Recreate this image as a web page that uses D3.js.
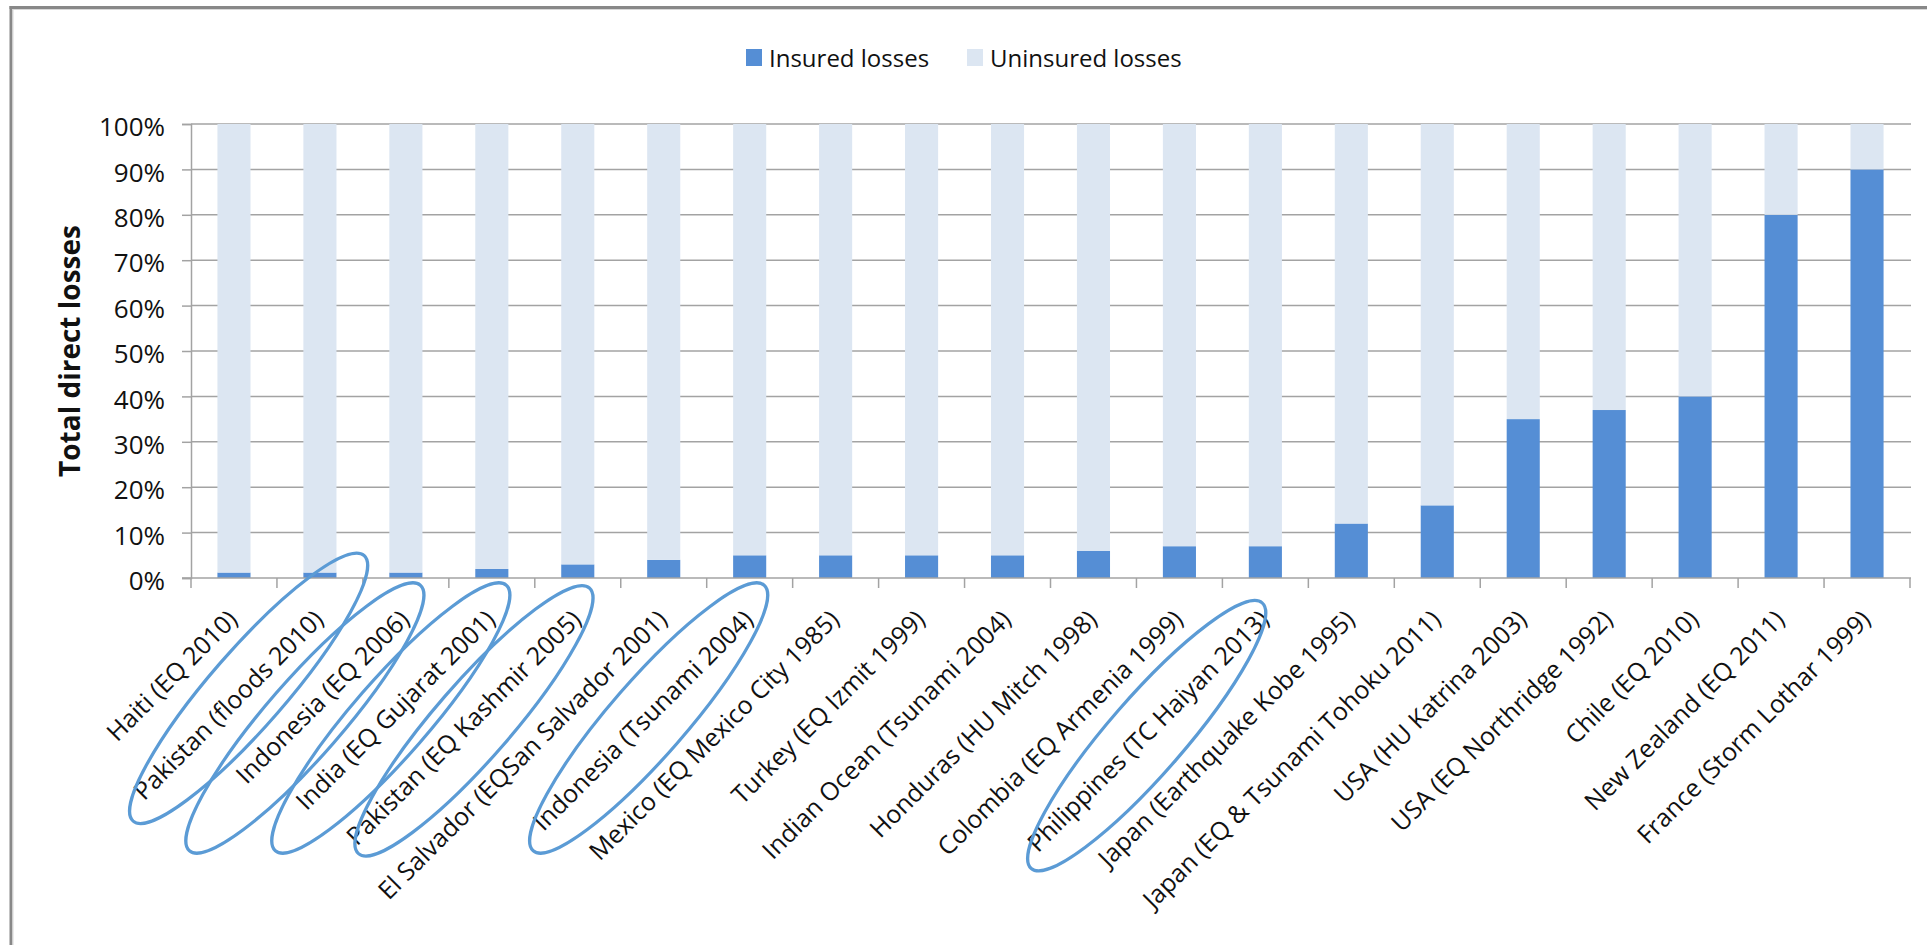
<!DOCTYPE html>
<html>
<head>
<meta charset="utf-8">
<script src="https://cdn.jsdelivr.net/npm/d3@7"></script>
<style>
  html, body { margin: 0; background: #fff; overflow: hidden; }
  svg { display: block; font-family: "Open Sans", sans-serif; }
</style>
</head>
<body>
<svg id="chart" width="1927" height="945"></svg>
<script>
// events along the x axis
var events = [
  "Haiti (EQ 2010)", "Pakistan (floods 2010)", "Indonesia (EQ 2006)",
  "India (EQ Gujarat 2001)", "Pakistan (EQ Kashmir 2005)",
  "El Salvador (EQSan Salvador 2001)", "Indonesia (Tsunami 2004)",
  "Mexico (EQ Mexico City 1985)", "Turkey (EQ Izmit 1999)",
  "Indian Ocean (Tsunami 2004)", "Honduras (HU Mitch 1998)",
  "Colombia (EQ Armenia 1999)", "Philippines (TC Haiyan 2013)",
  "Japan (Earthquake Kobe 1995)", "Japan (EQ & Tsunami Tohoku 2011)",
  "USA (HU Katrina 2003)", "USA (EQ Northridge 1992)", "Chile (EQ 2010)",
  "New Zealand (EQ 2011)", "France (Storm Lothar 1999)"
];
// share of insured losses, percent
var insured = [1.2, 1.2, 1.2, 2, 3, 4, 5, 5, 5, 5, 6, 7, 7, 12, 16, 35, 37, 40, 80, 90];
var uninsured = insured.map(function(v) { return 100 - v; });

var seriesNames = ["Insured losses", "Uninsured losses"];
var yTicks = [0, 10, 20, 30, 40, 50, 60, 70, 80, 90, 100];

// hand drawn circles round some labels (shift along the label, px)
var circled = [
  { name: "Pakistan (floods 2010)", shift: 42 },
  { name: "Indonesia (EQ 2006)", shift: 0 },
  { name: "India (EQ Gujarat 2001)", shift: 0 },
  { name: "Pakistan (EQ Kashmir 2005)", shift: -4 },
  { name: "Indonesia (Tsunami 2004)", shift: 0 },
  { name: "Philippines (TC Haiyan 2013)", shift: -25 }
];

var colors = ["#558ED5", "#DCE6F2"];
var gridColor = "#A3A3A3";

var svg = d3.select("#chart");
var pLeft = 191, pRight = 1910, pTop = 124, pBottom = 578;

// frame: top and left edges only
svg.append("line").attr("x1", 9.5).attr("x2", 1927).attr("y1", 7.5).attr("y2", 7.5)
  .attr("stroke", "#888").attr("stroke-width", 3);
svg.append("line").attr("x1", 11).attr("x2", 11).attr("y1", 6).attr("y2", 945)
  .attr("stroke", "#888").attr("stroke-width", 3);
svg.append("line").attr("x1", 12.5).attr("x2", 1927).attr("y1", 9.5).attr("y2", 9.5)
  .attr("stroke", "#d8d8d8").attr("stroke-width", 1);
svg.append("line").attr("x1", 13).attr("x2", 13).attr("y1", 9).attr("y2", 945)
  .attr("stroke", "#d8d8d8").attr("stroke-width", 1);

var rows = events.map(function(e, i) {
  return { name: e, insured: insured[i], uninsured: uninsured[i] };
});

var x = d3.scaleBand().domain(events).range([pLeft, pRight])
  .paddingInner(0.615).paddingOuter(0.3075);
var y = d3.scaleLinear().domain([0, 100]).range([pBottom, pTop]);

// gridlines
svg.append("g").selectAll("line")
  .data(yTicks.filter(function(d) { return d > 0; }))
  .join("line")
  .attr("x1", pLeft).attr("x2", pRight + 1)
  .attr("y1", function(d) { return y(d); }).attr("y2", function(d) { return y(d); })
  .attr("stroke", gridColor).attr("stroke-width", 1.5);

// stacked bars
var stack = d3.stack().keys(["insured", "uninsured"]);
var layers = stack(rows);

svg.append("g").selectAll("g")
  .data(layers)
  .join("g")
  .attr("fill", function(d, i) { return colors[i]; })
  .selectAll("rect")
  .data(function(d) { return d; })
  .join("rect")
  .attr("x", function(d) { return x(d.data.name); })
  .attr("width", x.bandwidth())
  .attr("y", function(d) { return y(d[1]); })
  .attr("height", function(d) { return y(d[0]) - y(d[1]); });

// y axis
var yAxis = svg.append("g")
  .attr("transform", "translate(" + pLeft + ",0)")
  .call(d3.axisLeft(y).tickValues(yTicks).tickSize(9).tickPadding(17)
    .tickFormat(function(d) { return d + "%"; }));
yAxis.select(".domain").attr("stroke", gridColor).attr("stroke-width", 1.5);
yAxis.selectAll(".tick line").attr("stroke", gridColor).attr("stroke-width", 1.5);
yAxis.selectAll("text")
  .attr("font-size", 26).attr("fill", "#111")
  .attr("font-family", "Open Sans").attr("dy", "0.45em");

// x axis line and boundary ticks
svg.append("line")
  .attr("x1", pLeft - 9).attr("x2", pRight + 1)
  .attr("y1", pBottom).attr("y2", pBottom)
  .attr("stroke", gridColor).attr("stroke-width", 1.5);
svg.append("g").selectAll("line")
  .data(d3.range(events.length + 1))
  .join("line")
  .attr("x1", function(i) { return pLeft + i * x.step(); })
  .attr("x2", function(i) { return pLeft + i * x.step(); })
  .attr("y1", pBottom).attr("y2", pBottom + 10)
  .attr("stroke", gridColor).attr("stroke-width", 1.5);

// x labels
var xAxis = svg.append("g")
  .attr("transform", "translate(0," + pBottom + ")")
  .call(d3.axisBottom(x).tickSize(0));
xAxis.select(".domain").remove();
xAxis.selectAll("text")
  .attr("font-size", 25).attr("fill", "#111")
  .attr("font-family", "Open Sans")
  .attr("text-anchor", "end")
  .attr("x", 0).attr("y", 0).attr("dy", 0)
  .attr("transform", "translate(5,43) rotate(-45)");

// y title
svg.append("text")
  .attr("transform", "translate(80," + ((pTop + pBottom) / 2) + ") rotate(-90)")
  .attr("text-anchor", "middle")
  .attr("font-size", 28).attr("font-weight", "bold").attr("fill", "#111")
  .text("Total direct losses");

// legend
var legendItems = [
  { name: seriesNames[0], color: colors[0], x: 746 },
  { name: seriesNames[1], color: colors[1], x: 967 }
];
var lg = svg.append("g").selectAll("g")
  .data(legendItems).join("g")
  .attr("transform", function(d) { return "translate(" + d.x + ",49)"; });
lg.append("rect").attr("width", 16).attr("height", 17)
  .attr("fill", function(d) { return d.color; });
lg.append("text").attr("x", 23).attr("y", 17.5)
  .attr("font-size", 24).attr("fill", "#111")
  .text(function(d) { return d.name; });

// circles round labels
var k = Math.SQRT1_2;
svg.append("g").selectAll("ellipse")
  .data(circled)
  .join("ellipse")
  .attr("transform", function(d) {
    var px = x(d.name) + x.bandwidth() / 2 + 4;
    var py = pBottom + 41;
    var cx = px - 105 + d.shift * k;
    var cy = py + 99 - d.shift * k;
    return "translate(" + cx + "," + cy + ") rotate(-49)";
  })
  .attr("rx", 176).attr("ry", 38)
  .attr("fill", "none").attr("stroke", "#5B9BD5").attr("stroke-width", 3.2);
</script>
</body>
</html>
